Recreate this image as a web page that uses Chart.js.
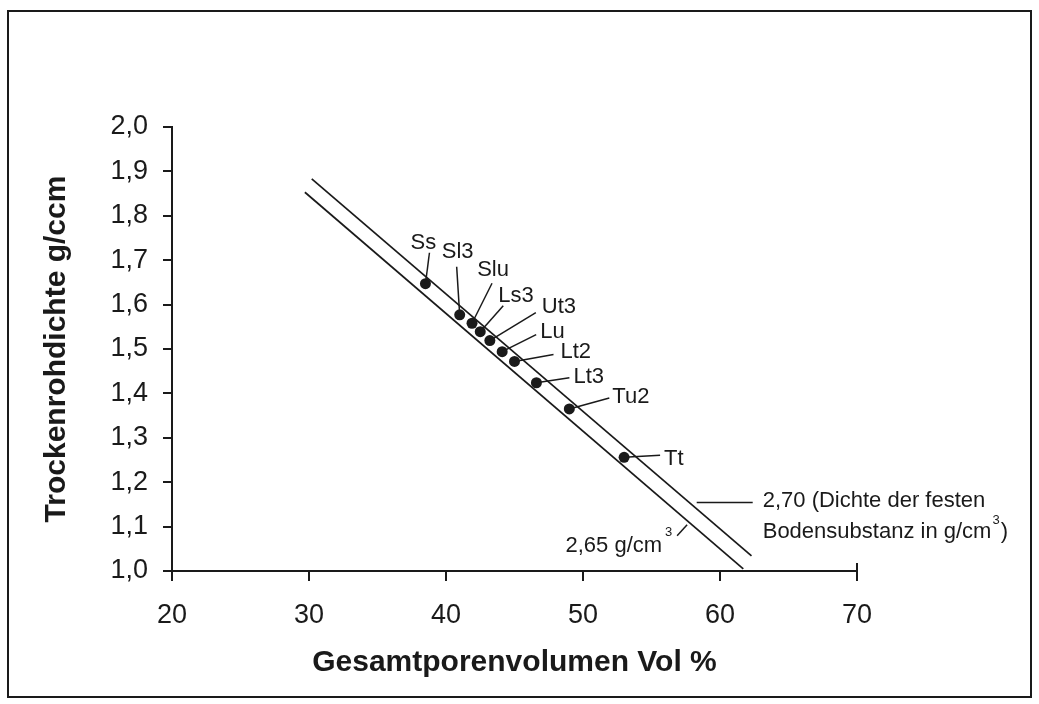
<!DOCTYPE html>
<html>
<head>
<meta charset="utf-8">
<script src="https://cdn.jsdelivr.net/npm/chart.js@4.4.1/dist/chart.umd.min.js"></script>
<style>
  html, body { margin: 0; padding: 0; background: #fff; }
  #wrap { width: 1039px; height: 704px; }
</style>
</head>
<body>
<div id="wrap"><canvas id="densityChart" width="1039" height="704"></canvas></div>
<script>
// soil texture classes and their readings
const soilLabels = ['Ss', 'Sl3', 'Slu', 'Ls3', 'Ut3', 'Lu', 'Lt2', 'Lt3', 'Tu2', 'Tt'];
const porosity = [38.5, 41.0, 41.9, 42.5, 43.2, 44.1, 45.0, 46.6, 49.0, 53.0];
const dryDensity = [1.647, 1.577, 1.558, 1.539, 1.519, 1.494, 1.472, 1.424, 1.365, 1.256];

// reference lines for particle density 2,70 and 2,65 g/cm3 (end points)
const line270X = [30.2, 62.3];
const line270Y = [1.883, 1.034];
const line265X = [29.7, 61.7];
const line265Y = [1.853, 1.005];

const xTicks = [20, 30, 40, 50, 60, 70];
const yTicks = [1.0, 1.1, 1.2, 1.3, 1.4, 1.5, 1.6, 1.7, 1.8, 1.9, 2.0];

const INK = '#1a1a1a';
const FONT = '"Liberation Sans", Arial, Helvetica, sans-serif';

// label placement relative to each dot (pixels)
const labelOffsets = {
    Ss:  { lx: 4,  ly: -31, tx: -2, ty: -41, align: 'center' },
    Sl3: { lx: -3, ly: -48, tx: -2, ty: -63, align: 'center' },
    Slu: { lx: 20, ly: -40, tx: 21, ty: -53, align: 'center' },
    Ls3: { lx: 23, ly: -26, tx: 18, ty: -36, align: 'left' },
    Ut3: { lx: 46, ly: -28, tx: 52, ty: -34, align: 'left' },
    Lu:  { lx: 34, ly: -17, tx: 38, ty: -20, align: 'left' },
    Lt2: { lx: 39, ly: -7,  tx: 46, ty: -9,  align: 'left' },
    Lt3: { lx: 33, ly: -5,  tx: 37, ty: -6,  align: 'left' },
    Tu2: { lx: 40, ly: -11, tx: 43, ty: -12, align: 'left' },
    Tt:  { lx: 36, ly: -2,  tx: 40, ty: 2,   align: 'left' }
};

const toPoints = (xs, ys) => xs.map((v, i) => ({ x: v, y: ys[i] }));

const framePlugin = {
    id: 'frame',
    beforeDraw(chart) {
        const ctx = chart.ctx;
        ctx.save();
        ctx.fillStyle = '#fff';
        ctx.fillRect(0, 0, chart.width, chart.height);
        ctx.restore();
    },
    afterDraw(chart) {
        const { ctx, scales: { x, y } } = chart;
        ctx.save();
        ctx.strokeStyle = INK;
        ctx.lineWidth = 2;
        ctx.strokeRect(8, 11, 1023, 686);
        // end cap of x axis at 70
        const px = Math.round(x.getPixelForValue(70));
        ctx.beginPath();
        ctx.moveTo(px, y.bottom - 8);
        ctx.lineTo(px, y.bottom);
        ctx.stroke();
        ctx.restore();
    }
};

const labelPlugin = {
    id: 'soilLabels',
    afterDatasetsDraw(chart) {
        const { ctx, scales: { x, y } } = chart;
        ctx.save();
        ctx.strokeStyle = INK;
        ctx.fillStyle = INK;
        ctx.lineWidth = 1.5;
        ctx.font = '22px ' + FONT;
        ctx.textBaseline = 'middle';

        soilLabels.forEach((name, i) => {
            const px = x.getPixelForValue(porosity[i]);
            const py = y.getPixelForValue(dryDensity[i]);
            const o = labelOffsets[name];
            ctx.beginPath();
            ctx.moveTo(px, py);
            ctx.lineTo(px + o.lx, py + o.ly);
            ctx.stroke();
            ctx.textAlign = o.align;
            ctx.fillText(name, px + o.tx, py + o.ty);
        });

        // 2,70 label
        let ax = x.getPixelForValue(58.3);
        let ay = y.getPixelForValue(1.154);
        ctx.beginPath();
        ctx.moveTo(ax, ay);
        ctx.lineTo(ax + 56, ay);
        ctx.stroke();
        ctx.textAlign = 'left';
        ctx.fillText('2,70 (Dichte der festen', ax + 66, ay - 2);
        const line2 = 'Bodensubstanz in g/cm';
        ctx.fillText(line2, ax + 66, ay + 29);
        let w = ctx.measureText(line2).width;
        ctx.font = '13px ' + FONT;
        ctx.fillText('3', ax + 67 + w, ay + 18);
        const w3 = ctx.measureText('3').width;
        ctx.font = '22px ' + FONT;
        ctx.fillText(')', ax + 68 + w + w3, ay + 29);

        // 2,65 label
        ax = x.getPixelForValue(57.6);
        ay = y.getPixelForValue(1.104);
        ctx.beginPath();
        ctx.moveTo(ax, ay);
        ctx.lineTo(ax - 10, ay + 11);
        ctx.stroke();
        ctx.textAlign = 'right';
        ctx.fillText('2,65 g/cm', ax - 25, ay + 21);
        ctx.textAlign = 'left';
        ctx.font = '13px ' + FONT;
        ctx.fillText('3', ax - 22, ay + 8);
        ctx.restore();
    }
};

new Chart(document.getElementById('densityChart').getContext('2d'), {
    type: 'scatter',
    data: {
        datasets: [
            {
                label: '2,70',
                data: toPoints(line270X, line270Y),
                showLine: true,
                borderColor: INK,
                borderWidth: 1.7,
                pointRadius: 0
            },
            {
                label: '2,65',
                data: toPoints(line265X, line265Y),
                showLine: true,
                borderColor: INK,
                borderWidth: 1.7,
                pointRadius: 0
            },
            {
                label: 'Bodenarten',
                data: toPoints(porosity, dryDensity),
                pointRadius: 5.5,
                pointBackgroundColor: INK,
                pointBorderColor: INK,
                pointBorderWidth: 0
            }
        ]
    },
    options: {
        responsive: false,
        animation: false,
        devicePixelRatio: 1,
        layout: { padding: { top: 127, right: 182, left: 0, bottom: 0 } },
        plugins: {
            legend: { display: false },
            tooltip: { enabled: false }
        },
        scales: {
            x: {
                type: 'linear',
                min: 20,
                max: 70,
                afterFit: (scale) => { scale.height = 133; },
                afterBuildTicks: (scale) => { scale.ticks = xTicks.map(v => ({ value: v })); },
                border: { color: INK, width: 2 },
                grid: { drawOnChartArea: false, color: INK, lineWidth: 2, tickLength: 10 },
                ticks: {
                    color: INK,
                    padding: 18,
                    maxRotation: 0,
                    font: { family: FONT, size: 27 },
                    callback: (v) => String(v)
                },
                title: {
                    display: true,
                    text: 'Gesamtporenvolumen Vol %',
                    color: INK,
                    font: { family: FONT, size: 30, weight: 'bold' },
                    padding: { top: 0, bottom: 23 }
                }
            },
            y: {
                type: 'linear',
                min: 1,
                max: 2,
                afterFit: (scale) => { scale.width = 172; },
                afterBuildTicks: (scale) => { scale.ticks = yTicks.map(v => ({ value: v })); },
                border: { color: INK, width: 2 },
                grid: { drawOnChartArea: false, color: INK, lineWidth: 2, tickLength: 9 },
                ticks: {
                    color: INK,
                    padding: 15,
                    font: { family: FONT, size: 27 },
                    callback: (v) => v.toFixed(1).replace('.', ',')
                },
                title: {
                    display: true,
                    text: 'Trockenrohdichte g/ccm',
                    color: INK,
                    font: { family: FONT, size: 30, weight: 'bold' },
                    padding: { top: 39, bottom: 0 }
                }
            }
        }
    },
    plugins: [framePlugin, labelPlugin]
});
</script>
</body>
</html>
